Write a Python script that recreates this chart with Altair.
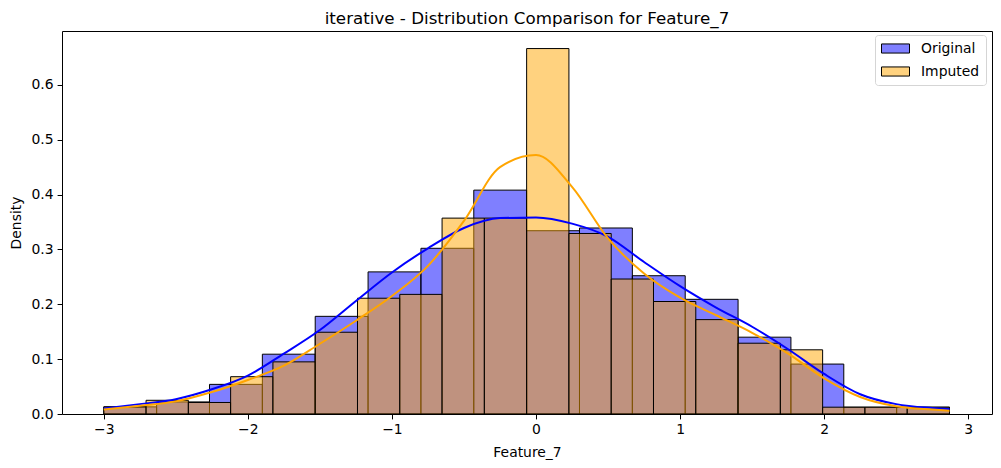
import altair as alt
import numpy as np
import pandas as pd

# ---- data ----
data_min = -3.0
data_max = 2.87
orig_bins = 16
imp_bins = 20

orig_density = [0.013, 0.022, 0.054, 0.109, 0.178, 0.259, 0.302, 0.408,
                0.334, 0.339, 0.252, 0.209, 0.140, 0.091, 0.0124, 0.0124]
imp_density = [0.013, 0.025, 0.021, 0.068, 0.095, 0.149, 0.211, 0.218,
               0.357, 0.357, 0.666, 0.329, 0.246, 0.205, 0.172, 0.129,
               0.117, 0.0124, 0.0124, 0.0124]

kde_x = [-3.0, -2.75, -2.5, -2.25, -2.0, -1.75, -1.5, -1.25, -1.0, -0.75,
         -0.5, -0.25, 0.0, 0.25, 0.5, 0.75, 1.0, 1.25, 1.5, 1.75, 2.0,
         2.25, 2.5, 2.75, 2.87]
kde_orig = [0.010, 0.018, 0.027, 0.045, 0.070, 0.110, 0.153, 0.206, 0.258,
            0.302, 0.339, 0.357, 0.358, 0.347, 0.323, 0.277, 0.233, 0.194,
            0.159, 0.118, 0.073, 0.036, 0.018, 0.011, 0.009]
kde_imp = [0.008, 0.015, 0.023, 0.040, 0.062, 0.088, 0.128, 0.170, 0.215,
           0.270, 0.352, 0.450, 0.472, 0.414, 0.320, 0.256, 0.212, 0.180,
           0.148, 0.110, 0.065, 0.031, 0.014, 0.008, 0.006]

series_names = ["Original", "Imputed"]
series_fills = ["rgba(0,0,255,0.5)", "rgba(255,165,0,0.5)"]
x_ticks = [-3, -2, -1, 0, 1, 2, 3]
y_ticks = [0.0, 0.1, 0.2, 0.3, 0.4, 0.5, 0.6]

# ---- tables ----
rows = []
for name, dens, nb in [("Original", orig_density, orig_bins),
                       ("Imputed", imp_density, imp_bins)]:
    edges = np.linspace(data_min, data_max, nb + 1)
    for i, d in enumerate(dens):
        rows.append({"series": name, "x0": edges[i], "x1": edges[i + 1],
                     "density": d, "base": 0.0})
hist_df = pd.DataFrame(rows)

kde_df = pd.DataFrame({
    "x": kde_x + kde_x,
    "density": kde_orig + kde_imp,
    "series": ["Original"] * len(kde_x) + ["Imputed"] * len(kde_x),
})

xs = alt.Scale(domain=[-3.29, 3.165], nice=False, zero=False)
ys = alt.Scale(domain=[0, 0.698], nice=False, zero=True)

# legend patch: 28 x 9 px rectangle (symbol size 196 -> unit = 7 px)
legend_rect = "M-1,-0.65L3,-0.65L3,0.65L-1,0.65Z"

bars = alt.Chart(hist_df).mark_rect(
    stroke="black", strokeWidth=1
).encode(
    x=alt.X("x0:Q", scale=xs,
            axis=alt.Axis(values=x_ticks, title="Feature_7", format="d")),
    x2="x1:Q",
    y=alt.Y("density:Q", scale=ys,
            axis=alt.Axis(values=y_ticks, format=".1f", title="Density")),
    y2="base:Q",
    fill=alt.Fill("series:N",
                  scale=alt.Scale(domain=series_names, range=series_fills),
                  legend=alt.Legend(title=None, orient="none",
                                    legendX=813, legendY=4,
                                    symbolType=legend_rect, symbolSize=196,
                                    symbolStrokeColor="black",
                                    symbolStrokeWidth=1,
                                    labelFont="DejaVu Sans",
                                    labelFontSize=13.9, labelColor="black",
                                    labelOffset=25, rowPadding=8,
                                    padding=6,
                                    fillColor="white",
                                    strokeColor="#d5d5d5",
                                    cornerRadius=3)),
)

line_o = alt.Chart(kde_df).transform_filter(
    alt.datum.series == "Original"
).mark_line(color="blue", strokeWidth=2, interpolate="monotone").encode(
    x=alt.X("x:Q", scale=xs), y=alt.Y("density:Q", scale=ys)
)
line_i = alt.Chart(kde_df).transform_filter(
    alt.datum.series == "Imputed"
).mark_line(color="orange", strokeWidth=2, interpolate="monotone").encode(
    x=alt.X("x:Q", scale=xs), y=alt.Y("density:Q", scale=ys)
)

chart = alt.layer(bars, line_o, line_i).properties(
    width=930, height=383,
    title=alt.TitleParams(
        "iterative - Distribution Comparison for Feature_7",
        font="DejaVu Sans", fontSize=16.7, fontWeight="normal",
        color="black", anchor="middle", offset=3),
    autosize=alt.AutoSizeParams(type="none"),
    padding={"left": 54, "top": 23, "right": 1, "bottom": 46},
).configure_view(
    stroke="black", strokeWidth=1
).configure_axis(
    grid=False, domain=False,
    labelFont="DejaVu Sans", labelFontSize=13.9, labelColor="black",
    titleFont="DejaVu Sans", titleFontSize=13.9, titleColor="black",
    titleFontWeight="normal",
    tickColor="black", tickSize=4.9, tickWidth=1,
    labelPadding=4,
).configure_axisY(
    titlePadding=8
).configure_axisX(
    titlePadding=9
)

chart.save("out.html", embed_options={"renderer": "svg", "actions": False})
